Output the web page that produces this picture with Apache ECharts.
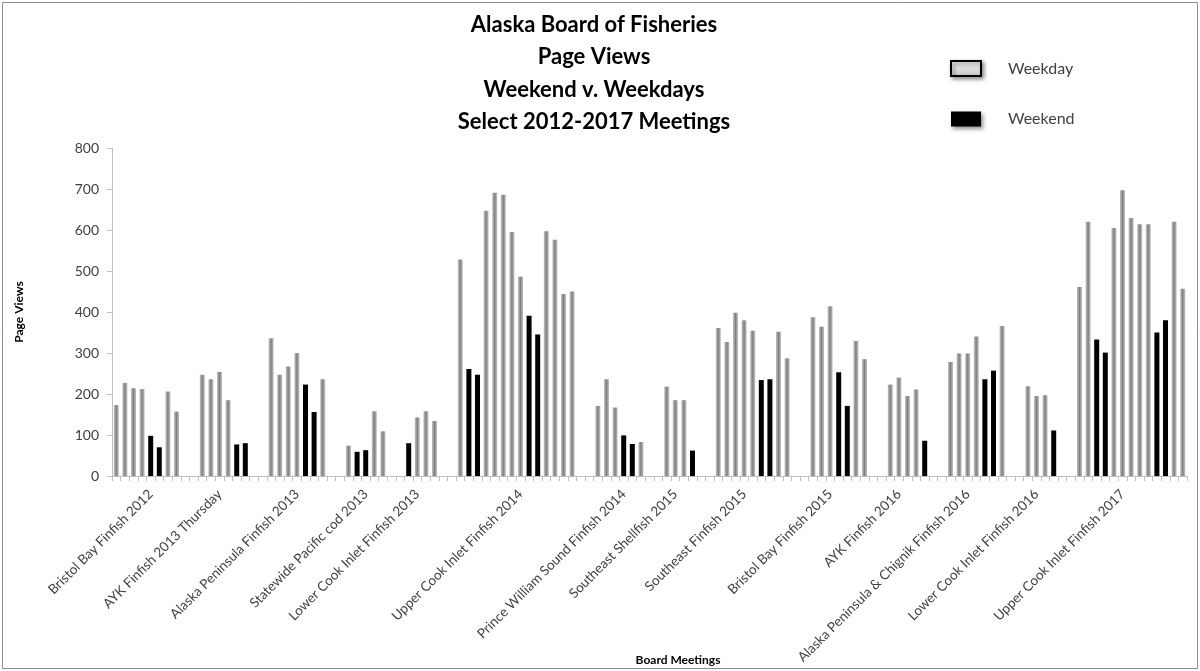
<!DOCTYPE html>
<html>
<head>
<meta charset="utf-8">
<script src="https://cdn.jsdelivr.net/npm/echarts@6/dist/echarts.min.js"></script>
<style>
html,body{margin:0;padding:0;background:#fff;}
#chart{width:1200px;height:671px;}
</style>
</head>
<body>
<div id="chart"></div>
<script>
// Board meetings (group names)
const meetings = [
  'Bristol Bay Finfish 2012',
  'AYK Finfish 2013 Thursday',
  'Alaska Peninsula Finfish 2013',
  'Statewide Pacific cod 2013',
  'Lower Cook Inlet Finfish 2013',
  'Upper Cook Inlet Finfish 2014',
  'Prince William Sound Finfish 2014',
  'Southeast Shellfish 2015',
  'Southeast Finfish 2015',
  'Bristol Bay Finfish 2015',
  'AYK Finfish 2016',
  'Alaska Peninsula & Chignik Finfish 2016',
  'Lower Cook Inlet Finfish 2016',
  'Upper Cook Inlet Finfish 2017'
];
// Which meeting day carries the category label
const labelDay = [4, 2, 3, 2, 1, 7, 3, 1, 3, 2, 1, 2, 1, 5];

// Page views per meeting day (null = other day type)
const weekdayViews = [
  [173, 227, 214, 212, null, null, 206, 157],
  [247, 236, 254, 185, null, null],
  [336, 247, 267, 300, null, null, 236],
  [74, null, null, 158, 109],
  [null, 143, 158, 134],
  [528, null, null, 647, 691, 686, 595, 486, null, null, 597, 576, 444, 450],
  [171, 236, 167, null, null, 83],
  [218, 185, 185, null],
  [361, 327, 398, 380, 354, null, null, 352, 287],
  [387, 364, 414, null, null, 329, 285],
  [223, 240, 195, 211, null],
  [278, 299, 299, 340, null, null, 366],
  [219, 195, 197, null],
  [461, 620, null, null, 605, 697, 629, 614, 614, null, null, 620, 457]
];
const weekendViews = [
  [null, null, null, null, 98, 70, null, null],
  [null, null, null, null, 77, 80],
  [null, null, null, null, 223, 156, null],
  [null, 59, 63, null, null],
  [80, null, null, null],
  [null, 261, 247, null, null, null, null, null, 391, 345, null, null, null, null],
  [null, null, null, 99, 78, null],
  [null, null, null, 62],
  [null, null, null, null, null, 234, 236, null, null],
  [null, null, null, 253, 171, null, null],
  [null, null, null, null, 86],
  [null, null, null, null, 236, 257, null],
  [null, null, null, 111],
  [null, null, 333, 301, null, null, null, null, null, 350, 380, null, null]
];
const yTicks = [0, 100, 200, 300, 400, 500, 600, 700, 800];
const gapDays = 2;

// Build flat category / series arrays
const categories = [], weekday = [], weekend = [];
meetings.forEach((m, i) => {
  if (i > 0) for (let g = 0; g < gapDays; g++) { categories.push(''); weekday.push(null); weekend.push(null); }
  weekdayViews[i].forEach((v, d) => {
    categories.push(d === labelDay[i] ? m : '');
    weekday.push(v);
    weekend.push(weekendViews[i][d]);
  });
});

const FONT = 'Lato, "Open Sans", sans-serif';
const chart = echarts.init(document.getElementById('chart'));
const grayGrad = new echarts.graphic.LinearGradient(0, 0, 1, 0, [
  {offset: 0, color: '#c4c4c4'},
  {offset: 0.5, color: '#808080'},
  {offset: 1, color: '#c4c4c4'}
]);
const TITLE_FONT = 'bold 22px ' + FONT;
chart.setOption({
  animation: false,
  backgroundColor: '#fff',
  textStyle: {fontFamily: FONT},
  graphic: [
    {type: 'rect', shape: {x: 2.5, y: 2.5, width: 1195, height: 666}, style: {fill: 'none', stroke: '#8c8c8c', lineWidth: 1}, silent: true},
    {type: 'text', x: 594, y: 25, style: {text: 'Alaska Board of Fisheries', font: TITLE_FONT, fill: '#000', align: 'center', verticalAlign: 'middle'}},
    {type: 'text', x: 594, y: 57, style: {text: 'Page Views', font: TITLE_FONT, fill: '#000', align: 'center', verticalAlign: 'middle'}},
    {type: 'text', x: 594, y: 90, style: {text: 'Weekend v. Weekdays', font: TITLE_FONT, fill: '#000', align: 'center', verticalAlign: 'middle'}},
    {type: 'text', x: 594, y: 122, style: {text: 'Select 2012-2017 Meetings', font: TITLE_FONT, fill: '#000', align: 'center', verticalAlign: 'middle'}},
    {type: 'text', x: 678, y: 660, style: {text: 'Board Meetings', font: 'bold 12px ' + FONT, fill: '#000', align: 'center', verticalAlign: 'middle'}}
  ],
  legend: {
    orient: 'vertical',
    left: 945,
    top: 55,
    itemWidth: 30,
    itemHeight: 15,
    itemGap: 34,
    icon: 'rect',
    selectedMode: false,
    textStyle: {fontSize: 16, color: '#404040', fontFamily: FONT, padding: [0, 0, 0, 22]},
    data: [
      {name: 'Weekday', itemStyle: {color: new echarts.graphic.LinearGradient(0, 0, 0, 1, [{offset: 0, color: '#f2f2f2'}, {offset: 1, color: '#c8c8c8'}]), borderColor: '#000', borderWidth: 2, shadowBlur: 4, shadowColor: 'rgba(0,0,0,0.45)', shadowOffsetX: 2, shadowOffsetY: 2}},
      {name: 'Weekend', itemStyle: {color: '#000', borderWidth: 0, shadowBlur: 4, shadowColor: 'rgba(0,0,0,0.45)', shadowOffsetX: 2, shadowOffsetY: 2}}
    ]
  },
  grid: {left: 112, right: 13, top: 148, bottom: 195, containLabel: false},
  xAxis: {
    type: 'category',
    data: categories,
    boundaryGap: true,
    axisLine: {lineStyle: {color: '#bfbfbf', width: 1}},
    axisTick: {show: true, interval: 0, length: 5, lineStyle: {color: '#bfbfbf'}},
    axisLabel: {interval: 0, rotate: 45, margin: 16, fontSize: 13.5, color: '#404040', fontFamily: FONT}
  },
  yAxis: {
    type: 'value',
    min: yTicks[0],
    max: yTicks[yTicks.length - 1],
    interval: 100,
    name: 'Page Views',
    nameLocation: 'middle',
    nameRotate: 90,
    nameGap: 87,
    nameTextStyle: {fontSize: 12, fontWeight: 'bold', color: '#000', fontFamily: FONT},
    splitLine: {show: false},
    axisLine: {show: true, lineStyle: {color: '#bfbfbf'}},
    axisTick: {show: true, length: 5, lineStyle: {color: '#bfbfbf'}},
    axisLabel: {fontSize: 14, color: '#404040', margin: 13, fontFamily: FONT}
  },
  series: [
    {name: 'Weekday', type: 'bar', stack: 'v', data: weekday, barWidth: 5, itemStyle: {color: grayGrad}},
    {name: 'Weekend', type: 'bar', stack: 'v', data: weekend, barWidth: 5, itemStyle: {color: '#000'}}
  ]
});
</script>
</body>
</html>
